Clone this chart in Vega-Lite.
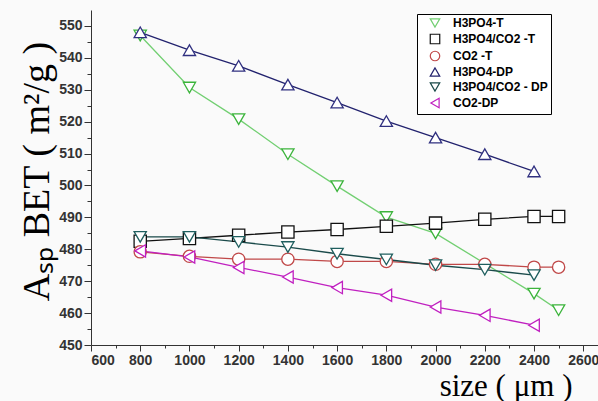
{
  "$schema": "https://vega.github.io/schema/vega-lite/v6.json",
  "autosize": {"type": "none"},
  "padding": {"left": 91, "top": 10, "right": 0, "bottom": 56},
  "width": 507,
  "height": 335,
  "background": "#fafafa",
  "config": {
    "view": {"stroke": null},
    "axis": {
      "labelFont": "Liberation Sans",
      "labelFontWeight": "bold",
      "labelFontSize": 14,
      "labelColor": "#333333",
      "domainColor": "#333333",
      "tickColor": "#333333",
      "grid": false,
      "titleFont": "Liberation Serif",
      "titleFontWeight": "normal",
      "titleColor": "#000000"
    },
    "legend": {
      "strokeColor": "#000000", "fillColor": "#ffffff",
      "padding": 3, "rowPadding": 1,
      "labelFont": "Liberation Sans", "labelFontWeight": "bold", "labelFontSize": 12,
      "labelColor": "#000000", "labelLimit": 200, "symbolSize": 90, "symbolStrokeWidth": 1.2,
      "symbolFillColor": "#ffffff", "symbolOffset": 9, "labelOffset": 12
    }
  },
  "data": {
    "values": [
      {"series": "H3PO4-T", "size": 800, "asp": 547},
      {"series": "H3PO4-T", "size": 1000, "asp": 530.7},
      {"series": "H3PO4-T", "size": 1200, "asp": 520.8},
      {"series": "H3PO4-T", "size": 1400, "asp": 509.8},
      {"series": "H3PO4-T", "size": 1600, "asp": 499.8},
      {"series": "H3PO4-T", "size": 1800, "asp": 490.1},
      {"series": "H3PO4-T", "size": 2000, "asp": 485},
      {"series": "H3PO4-T", "size": 2400, "asp": 466.1},
      {"series": "H3PO4-T", "size": 2500, "asp": 460.9},
      {"series": "H3PO4/CO2 -T", "size": 800, "asp": 482.5},
      {"series": "H3PO4/CO2 -T", "size": 1000, "asp": 483.4},
      {"series": "H3PO4/CO2 -T", "size": 1200, "asp": 484.4},
      {"series": "H3PO4/CO2 -T", "size": 1400, "asp": 485.4},
      {"series": "H3PO4/CO2 -T", "size": 1600, "asp": 486.2},
      {"series": "H3PO4/CO2 -T", "size": 1800, "asp": 487.2},
      {"series": "H3PO4/CO2 -T", "size": 2000, "asp": 488.2},
      {"series": "H3PO4/CO2 -T", "size": 2200, "asp": 489.4},
      {"series": "H3PO4/CO2 -T", "size": 2400, "asp": 490.3},
      {"series": "H3PO4/CO2 -T", "size": 2500, "asp": 490.3},
      {"series": "CO2 -T", "size": 800, "asp": 479.2},
      {"series": "CO2 -T", "size": 1000, "asp": 477.8},
      {"series": "CO2 -T", "size": 1200, "asp": 476.9},
      {"series": "CO2 -T", "size": 1400, "asp": 476.9},
      {"series": "CO2 -T", "size": 1600, "asp": 476.2},
      {"series": "CO2 -T", "size": 1800, "asp": 476.2},
      {"series": "CO2 -T", "size": 2000, "asp": 475.3},
      {"series": "CO2 -T", "size": 2200, "asp": 475.3},
      {"series": "CO2 -T", "size": 2400, "asp": 474.4},
      {"series": "CO2 -T", "size": 2500, "asp": 474.4},
      {"series": "H3PO4-DP", "size": 800, "asp": 548},
      {"series": "H3PO4-DP", "size": 1000, "asp": 542.4},
      {"series": "H3PO4-DP", "size": 1200, "asp": 537.5},
      {"series": "H3PO4-DP", "size": 1400, "asp": 531.6},
      {"series": "H3PO4-DP", "size": 1600, "asp": 526},
      {"series": "H3PO4-DP", "size": 1800, "asp": 520.2},
      {"series": "H3PO4-DP", "size": 2000, "asp": 515},
      {"series": "H3PO4-DP", "size": 2200, "asp": 509.8},
      {"series": "H3PO4-DP", "size": 2400, "asp": 504.4},
      {"series": "H3PO4/CO2 - DP", "size": 800, "asp": 483.9},
      {"series": "H3PO4/CO2 - DP", "size": 1000, "asp": 483.9},
      {"series": "H3PO4/CO2 - DP", "size": 1200, "asp": 482.3},
      {"series": "H3PO4/CO2 - DP", "size": 1400, "asp": 480.7},
      {"series": "H3PO4/CO2 - DP", "size": 1600, "asp": 478.6},
      {"series": "H3PO4/CO2 - DP", "size": 1800, "asp": 476.8},
      {"series": "H3PO4/CO2 - DP", "size": 2000, "asp": 475},
      {"series": "H3PO4/CO2 - DP", "size": 2200, "asp": 473.6},
      {"series": "H3PO4/CO2 - DP", "size": 2400, "asp": 471.9},
      {"series": "CO2-DP", "size": 800, "asp": 479.5},
      {"series": "CO2-DP", "size": 1000, "asp": 477.6},
      {"series": "CO2-DP", "size": 1200, "asp": 474.3},
      {"series": "CO2-DP", "size": 1400, "asp": 471.3},
      {"series": "CO2-DP", "size": 1600, "asp": 468},
      {"series": "CO2-DP", "size": 1800, "asp": 465.6},
      {"series": "CO2-DP", "size": 2000, "asp": 461.9},
      {"series": "CO2-DP", "size": 2200, "asp": 459.3},
      {"series": "CO2-DP", "size": 2400, "asp": 456.2}
    ]
  },
  "resolve": {"axis": {"x": "independent", "y": "independent"}},
  "layer": [
    {
      "mark": {"type": "line", "strokeWidth": 1.3},
      "encoding": {
        "x": {
          "field": "size", "type": "quantitative",
          "scale": {"domain": [600, 2660], "nice": false, "zero": false},
          "axis": {
            "values": [600, 800, 1000, 1200, 1400, 1600, 1800, 2000, 2200, 2400, 2600],
            "tickSize": 6, "labelPadding": 2, "format": "d",
            "title": "size ( μm )", "titleFontSize": 31,
            "titleAnchor": "end", "titleAlign": "right",
            "titleX": 481, "titleY": 50, "titleBaseline": "alphabetic"
          }
        },
        "y": {
          "field": "asp", "type": "quantitative",
          "scale": {"domain": [450, 555], "nice": false, "zero": false},
          "axis": {
            "values": [450, 460, 470, 480, 490, 500, 510, 520, 530, 540, 550],
            "tickSize": 7, "labelPadding": 2,
            "title": "Aₛₚ BET ( m²/g )", "titleFontSize": 38,
            "titleX": -54, "titleY": 161, "titleBaseline": "middle", "titleAngle": -90, "titleAlign": "center"
          }
        },
        "stroke": {
          "field": "series", "type": "nominal",
          "scale": {
            "domain": ["H3PO4-T", "H3PO4/CO2 -T", "CO2 -T", "H3PO4-DP", "H3PO4/CO2 - DP", "CO2-DP"],
            "range": ["#72cf72", "#111111", "#c04848", "#22226e", "#1a4a4a", "#c020c0"]
          },
          "legend": {"title": null, "orient": "none", "legendX": 326, "legendY": 4}
        }
      }
    },
    {
      "mark": {"type": "point", "filled": false, "fill": "white", "fillOpacity": 1, "size": 150, "strokeWidth": 1.3, "opacity": 1},
      "encoding": {
        "x": {
          "field": "size", "type": "quantitative",
          "axis": {
            "values": [700, 900, 1100, 1300, 1500, 1700, 1900, 2100, 2300, 2500],
            "tickSize": 3, "labels": false, "domain": false, "title": null, "orient": "bottom"
          }
        },
        "y": {
          "field": "asp", "type": "quantitative",
          "axis": {
            "values": [455, 465, 475, 485, 495, 505, 515, 525, 535, 545],
            "tickSize": 4, "labels": false, "domain": false, "title": null, "orient": "left"
          }
        },
        "color": {
          "field": "series", "type": "nominal",
          "scale": {
            "domain": ["H3PO4-T", "H3PO4/CO2 -T", "CO2 -T", "H3PO4-DP", "H3PO4/CO2 - DP", "CO2-DP"],
            "range": ["#3cb43c", "#111111", "#c04848", "#303080", "#1f5f5f", "#c020c0"]
          },
          "legend": {"title": null, "orient": "none", "legendX": 326, "legendY": 4}
        },
        "shape": {
          "field": "series", "type": "nominal",
          "scale": {
            "domain": ["H3PO4-T", "H3PO4/CO2 -T", "CO2 -T", "H3PO4-DP", "H3PO4/CO2 - DP", "CO2-DP"],
            "range": ["triangle-down", "square", "circle", "triangle-up", "triangle-down", "triangle-left"]
          },
          "legend": {"title": null, "orient": "none", "legendX": 326, "legendY": 4}
        }
      }
    }
  ]
}
